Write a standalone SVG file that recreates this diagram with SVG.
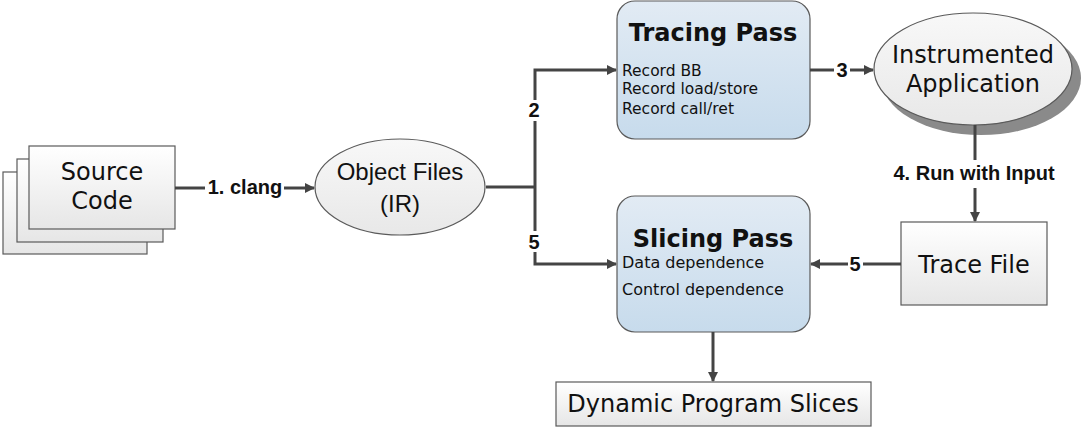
<svg xmlns="http://www.w3.org/2000/svg" width="1085" height="430" viewBox="0 0 1085 430">
<style>
.box{stroke:#5a5a5a;stroke-width:1.2;fill:url(#gGray)}
.pass{stroke:#5a5a5a;stroke-width:1.2;fill:url(#gBlue)}
.ell{stroke:#5a5a5a;stroke-width:1.2;fill:url(#gEll)}
.v{font-family:"DejaVu Sans",Verdana,sans-serif;fill:#111}
.a{font-family:"Liberation Sans",Arial,sans-serif;fill:#111}
.lbl{font-family:"Liberation Sans",Arial,sans-serif;font-weight:bold;font-size:20px;fill:#111}
.con{stroke:#444;stroke-width:3;fill:none}
</style>
<defs>
<linearGradient id="gGray" x1="0" y1="0" x2="0" y2="1"><stop offset="0" stop-color="#ffffff"/><stop offset="1" stop-color="#e6e6e6"/></linearGradient>
<linearGradient id="gEll" x1="0" y1="0" x2="0" y2="1"><stop offset="0" stop-color="#f8f8f8"/><stop offset="1" stop-color="#e8e8e8"/></linearGradient>
<linearGradient id="gBlue" x1="0" y1="0" x2="0" y2="1"><stop offset="0" stop-color="#e2ebf4"/><stop offset="1" stop-color="#c7dbec"/></linearGradient>
<marker id="ah" markerWidth="10" markerHeight="10" refX="9" refY="5" orient="auto" markerUnits="userSpaceOnUse" viewBox="0 0 10 10"><path d="M0,0 L10,5 L0,10 z" fill="#444"/></marker>
</defs>
<rect width="1085" height="430" fill="#ffffff"/>

<g id="source-code">
<rect class="box" x="3" y="172" width="144" height="82"/>
<rect class="box" x="17" y="159" width="146" height="83"/>
<rect class="box" x="29" y="146" width="146" height="83"/>
<text class="v" font-size="24" text-anchor="middle" x="102" y="180">Source</text>
<text class="v" font-size="24" text-anchor="middle" x="102" y="209">Code</text>
</g>

<g id="object-files">
<ellipse class="ell" cx="400" cy="187" rx="85" ry="48"/>
<text class="a" font-size="24" text-anchor="middle" x="400" y="180">Object Files</text>
<text class="a" font-size="24" text-anchor="middle" x="400" y="212">(IR)</text>
</g>

<g id="tracing-pass">
<rect class="pass" x="617" y="1" width="193" height="138" rx="18"/>
<text class="v" font-size="24" font-weight="bold" text-anchor="middle" x="713" y="41">Tracing Pass</text>
<text class="v" font-size="15.5" x="622" y="76">Record BB</text>
<text class="v" font-size="15.5" x="622" y="94">Record load/store</text>
<text class="v" font-size="15.5" x="622" y="114">Record call/ret</text>
</g>

<g id="instrumented-application">
<ellipse cx="981" cy="78" rx="100" ry="57" fill="#8a8a8a"/>
<ellipse class="ell" cx="973" cy="69" rx="99" ry="56"/>
<text class="v" font-size="24" text-anchor="middle" x="973" y="63">Instrumented</text>
<text class="v" font-size="24" text-anchor="middle" x="973" y="92">Application</text>
</g>

<g id="trace-file">
<rect class="box" x="901" y="222" width="146" height="83"/>
<text class="v" font-size="24" text-anchor="middle" x="974" y="273">Trace File</text>
</g>

<g id="slicing-pass">
<rect class="pass" x="617" y="196" width="193" height="136" rx="18"/>
<text class="v" font-size="24" font-weight="bold" text-anchor="middle" x="713" y="247">Slicing Pass</text>
<text class="v" font-size="16" x="622" y="268">Data dependence</text>
<text class="v" font-size="16" x="622" y="295">Control dependence</text>
</g>

<g id="dynamic-program-slices">
<rect class="box" x="556" y="382" width="315" height="44"/>
<text class="v" font-size="24" text-anchor="middle" x="713" y="412">Dynamic Program Slices</text>
</g>

<g id="connectors">
<path class="con" d="M175,188 H205"/>
<path class="con" d="M284,188 H314" marker-end="url(#ah)"/>
<text class="lbl" text-anchor="middle" x="245" y="194">1. clang</text>

<path class="con" d="M486,187 H535"/>
<path class="con" d="M535,100 V70 H616" marker-end="url(#ah)"/>
<path class="con" d="M535,121 V231"/>
<path class="con" d="M535,252 V264 H616" marker-end="url(#ah)"/>
<text class="lbl" text-anchor="middle" x="534" y="117">2</text>
<text class="lbl" text-anchor="middle" x="534" y="249">5</text>

<path class="con" d="M810,70 H834"/>
<path class="con" d="M850,70 H873" marker-end="url(#ah)"/>
<text class="lbl" text-anchor="middle" x="842" y="77">3</text>

<path class="con" d="M975,125 V160"/>
<path class="con" d="M975,188 V221" marker-end="url(#ah)"/>
<text class="lbl" text-anchor="middle" x="974" y="180" font-size="21">4. Run with Input</text>

<path class="con" d="M901,264 H863"/>
<path class="con" d="M848,264 H811" marker-end="url(#ah)"/>
<text class="lbl" text-anchor="middle" x="855" y="271">5</text>

<path class="con" d="M713,332 V381" marker-end="url(#ah)"/>
</g>
</svg>
